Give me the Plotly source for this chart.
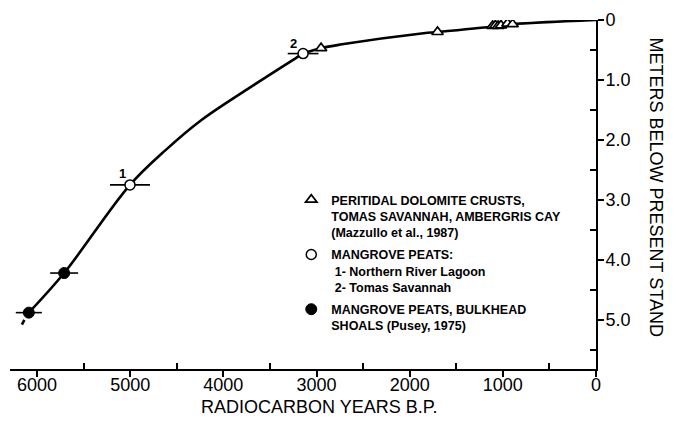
import plotly.graph_objects as go

# ---- data ----
tri_years = [2951, 1701, 1110, 1080, 1050, 1020, 950, 895]
tri_depth = [0.47, 0.20, 0.10, 0.09, 0.10, 0.09, 0.06, 0.07]

open_years = [5002, 3144]
open_depth = [2.75, 0.56]
open_err = [215, 165]
open_labels = ["1", "2"]

fill_years = [6088, 5709]
fill_depth = [4.88, 4.22]
fill_err = [140, 150]

curve_years = [6088, 5709, 5002, 4620, 4245, 3708, 3247, 3144, 2951, 2744, 1851, 1701, 1050, 900, 0]
curve_depth = [4.88, 4.22, 2.75, 2.17, 1.68, 1.12, 0.66, 0.56, 0.47, 0.41, 0.22, 0.20, 0.10, 0.07, 0.0]

dash_years = [6162, 6136]
dash_depth = [5.08, 5.00]

x_tickvals = [6000, 5000, 4000, 3000, 2000, 1000, 0]
x_ticktext = ["6000", "5000", "4000", "3000", "2000", "1000", "0"]
x_minor = [5500, 4500, 3500, 2500, 1500, 500]
y_tickvals = [0, 1, 2, 3, 4, 5]
y_ticktext = ["0", "1.0", "2.0", "3.0", "4.0", "5.0"]
y_minor = [0.5, 1.5, 2.5, 3.5, 4.5, 5.5]

legend_names = [
    "PERITIDAL DOLOMITE CRUSTS,<br>TOMAS SAVANNAH, AMBERGRIS CAY<br>(Mazzullo et al., 1987)",
    "MANGROVE PEATS:<br>\u00a01- Northern River Lagoon<br>\u00a02- Tomas Savannah",
    "MANGROVE PEATS, BULKHEAD<br>SHOALS (Pusey, 1975)",
]

FONT = "Liberation Sans, Arial, sans-serif"

fig = go.Figure()

fig.add_trace(go.Scatter(x=curve_years, y=curve_depth, mode="lines",
                         line=dict(color="black", width=2.6, shape="spline", smoothing=1.0),
                         showlegend=False, hoverinfo="skip"))
fig.add_trace(go.Scatter(x=dash_years, y=dash_depth, mode="lines",
                         line=dict(color="black", width=2.6),
                         showlegend=False, hoverinfo="skip"))

fig.add_trace(go.Scatter(x=tri_years, y=tri_depth, mode="markers", name=legend_names[0],
                         legendgroup="a",
                         marker=dict(symbol="triangle-up", size=10, color="white",
                                     line=dict(color="black", width=1.7))))
fig.add_trace(go.Scatter(x=open_years, y=open_depth, mode="markers", name=legend_names[1],
                         legendgroup="b",
                         error_x=dict(type="data", array=open_err, color="black", thickness=1.6, width=0),
                         marker=dict(symbol="circle", size=10, color="white",
                                     line=dict(color="black", width=1.5))))
fig.add_trace(go.Scatter(x=fill_years, y=fill_depth, mode="markers", name=legend_names[2],
                         legendgroup="c",
                         error_x=dict(type="data", array=fill_err, color="black", thickness=1.6, width=0),
                         marker=dict(symbol="circle", size=11, color="black",
                                     line=dict(color="black", width=1))))

for xv, yv, lab, dx, dy in zip(open_years, open_depth, open_labels, [-7, -10], [11, 10]):
    fig.add_annotation(x=xv, y=yv, text="<b>%s</b>" % lab, showarrow=False,
                       xshift=dx, yshift=dy, font=dict(family=FONT, size=13, color="black"))

fig.add_annotation(x=0.527, y=-0.11, xref="paper", yref="paper", text="RADIOCARBON YEARS B.P.",
                   showarrow=False, xanchor="center", yanchor="middle",
                   font=dict(family=FONT, size=18, color="black"))
fig.add_annotation(x=1.104, y=0.52, xref="paper", yref="paper", text="METERS BELOW PRESENT STAND",
                   showarrow=False, textangle=90, xanchor="center", yanchor="middle",
                   font=dict(family=FONT, size=18, color="black"))

fig.update_layout(
    width=676, height=425,
    margin=dict(l=2, r=88, t=6, b=64),
    paper_bgcolor="white", plot_bgcolor="white",
    font=dict(family=FONT, size=18, color="black"),
    legend=dict(x=0.48, y=0.527, xanchor="left", yanchor="top", valign="top",
                tracegroupgap=3, bgcolor="rgba(0,0,0,0)",
                font=dict(family=FONT, size=12.5, color="black", weight="bold")),
    xaxis=dict(range=[6290, 0], showgrid=False, zeroline=False, showline=True,
               linecolor="black", linewidth=2,
               tickmode="array", tickvals=x_tickvals, ticktext=x_ticktext,
               ticks="outside", ticklen=6, tickwidth=1.5, tickcolor="black",
               ticklabelstandoff=-8, ticklabeloverflow="allow",
               minor=dict(tickmode="array", tickvals=x_minor, ticks="inside", ticklen=6,
                          tickwidth=1.5, tickcolor="black", showgrid=False),
               tickfont=dict(family=FONT, size=18, color="black")),
    yaxis=dict(range=[5.82, 0], side="right", showgrid=False, zeroline=False, showline=True,
               linecolor="black", linewidth=2,
               tickmode="array", tickvals=y_tickvals, ticktext=y_ticktext,
               ticks="outside", ticklen=6, tickwidth=1.5, tickcolor="black",
               ticklabelstandoff=-2, ticklabeloverflow="allow",
               minor=dict(tickmode="array", tickvals=y_minor, ticks="inside", ticklen=6,
                          tickwidth=1.5, tickcolor="black", showgrid=False),
               tickfont=dict(family=FONT, size=18, color="black")),
)

fig.write_html("out.html")
